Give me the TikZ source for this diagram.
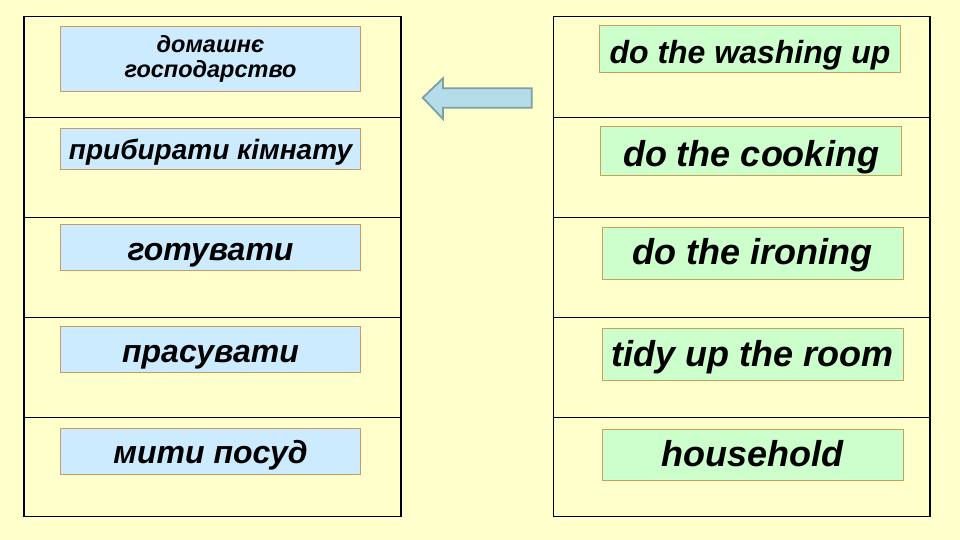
\documentclass[tikz,border=0pt]{standalone}
\usepackage{fontspec}
\setmainfont{Liberation Sans}
\definecolor{bg}{HTML}{FFFFCC}
\definecolor{ukfill}{HTML}{CCEBFF}
\definecolor{ukline}{HTML}{CC9966}
\definecolor{enfill}{HTML}{CCFFCC}
\definecolor{enline}{HTML}{C8A05A}
\definecolor{arrfill}{HTML}{B4DCEA}
\definecolor{arrline}{HTML}{7F9FA0}
\tikzset{
  ukbox/.style={draw=ukline, fill=ukfill, line width=0.9pt, inner sep=0pt,
    minimum width=300pt},
  enbox/.style={draw=enline, fill=enfill, line width=0.9pt, inner sep=0pt,
    minimum width=301pt},
  fs/.style={font=\bfseries\itshape\fontsize{#1}{#1}\selectfont},
  boxh/.style 2 args={minimum height=#1pt, text height=#2pt, text depth=0pt},
  tableline/.style={draw=black, line width=1.2pt}
}
\begin{document}
\begin{tikzpicture}[x=1pt, y=-1pt]
\useasboundingbox (0,0) rectangle (960,540);
\fill[bg] (0,0) rectangle (960,540);
% tables
\draw[tableline] (24,16.7) rectangle (401,516.7);
\foreach \yy in {117.3,217.3,317.3,417.3} \draw[tableline] (24,\yy) -- (401,\yy);
\draw[tableline] (553.3,16.7) rectangle (930,516.7);
\foreach \yy in {117.3,217.3,317.3,417.3} \draw[tableline] (553.3,\yy) -- (930,\yy);
% left boxes
\node[ukbox, minimum height=65pt, align=center,
  font=\bfseries\itshape\fontsize{23.5}{25.5}\selectfont] (l1) at (210.5,58.7) {домашнє\\господарство};
\node[ukbox, fs=28, boxh={41}{21}] (l2) at (210.5,148.8) {прибирати кімнату};
\node[ukbox, fs=32, boxh={46.7}{25.7}] (l3) at (210.5,247.4) {готувати};
\node[ukbox, fs=32, boxh={46}{27}] (l4) at (210.5,349.2) {прасувати};
\node[ukbox, fs=32, boxh={46}{24}] (l5) at (210.5,451.2) {мити посуд};
% right boxes
\node[enbox, fs=32, boxh={46.7}{27.7}] (r1) at (750,49.3) {do the washing up};
\node[enbox, fs=36, boxh={49.3}{30.3}] (r2) at (751,151.3) {do the cooking};
\node[enbox, fs=36, boxh={51.7}{23.7}] (r3) at (752.8,253.1) {do the ironing};
\node[enbox, fs=36, boxh={51.7}{24.7}] (r4) at (752.8,354.1) {tidy up the room};
\node[enbox, fs=36, boxh={51.4}{23.4}] (r5) at (752.8,455) {household};
% arrow
\draw[draw=arrline, fill=arrfill, line width=1.8pt, line join=miter]
  (531.7,88.3) -- (443,88.3) -- (443,78.3) -- (422.7,97.7) -- (443,119) -- (443,107.7) -- (531.7,107.7) -- cycle;
\end{tikzpicture}
\end{document}
